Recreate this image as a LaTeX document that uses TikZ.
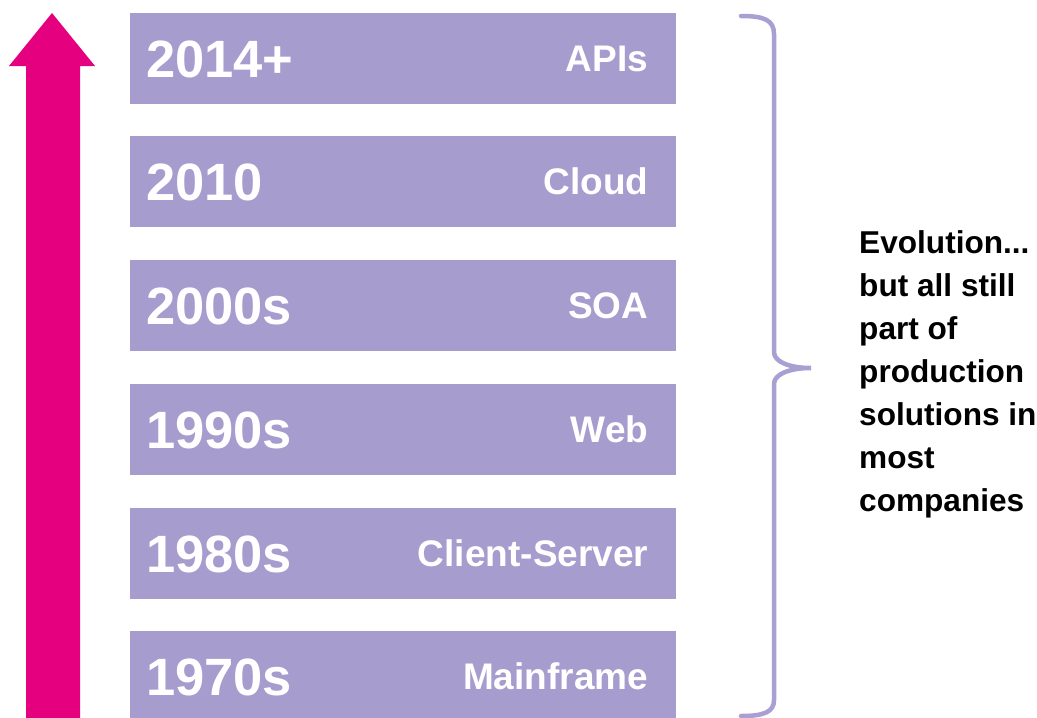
\documentclass[tikz,border=0pt]{standalone}
\usepackage{fontspec}
\setmainfont{Liberation Sans}
\definecolor{lav}{HTML}{A69CCE}
\definecolor{bracecol}{HTML}{A99FD2}
\definecolor{mag}{HTML}{E4007F}
\begin{document}
\begin{tikzpicture}[x=1pt,y=-1pt,
  erabox/.style={fill=lav, draw=none, minimum width=546pt, minimum height=91pt, inner sep=0pt, anchor=north west},
  yeartext/.style={text=white, font=\bfseries\fontsize{52.5}{52.5}\selectfont, anchor=base west, inner sep=0pt},
  erlabel/.style={text=white, font=\bfseries\fontsize{37}{37}\selectfont, anchor=base east, inner sep=0pt},
  note/.style={font=\bfseries\fontsize{31.6}{43}\selectfont, align=left, anchor=north west, inner sep=0pt}]
\clip (0,0) rectangle (1037,718);
% arrow
\fill[mag] (52,13) -- (95,66) -- (80,66) -- (80,720) -- (26,720) -- (26,66) -- (9,66) -- cycle;
% boxes
\foreach \i/\yr/\lab in {0/2014+/APIs, 1/2010/Cloud, 2/2000s/SOA, 3/1990s/Web, 4/1980s/Client-Server, 5/1970s/Mainframe}{
  \pgfmathsetmacro{\top}{12.5+123.7*\i}
  \node[erabox] (box\i) at (130,\top) {};
  \node[yeartext] (yr\i) at ([xshift=16pt,yshift=-19pt]box\i.west) {\yr};
  \node[erlabel] (lab\i) at ([xshift=-28pt,yshift=-13pt]box\i.east) {\lab};
}
% brace
\draw[bracecol, line width=4.5pt, line cap=round]
  (741,16) .. controls (764,16) and (774,20) .. (774,34) -- (774,352)
  .. controls (774,362) and (790,368) .. (811,368)
  .. controls (790,368) and (774,374) .. (774,384) -- (774,700)
  .. controls (774,712) and (764,716) .. (741,716);
% note
\node[note] (note) at (859,230) {Evolution...\\but all still\\part of\\production\\solutions in\\most\\companies};
\end{tikzpicture}
\end{document}
